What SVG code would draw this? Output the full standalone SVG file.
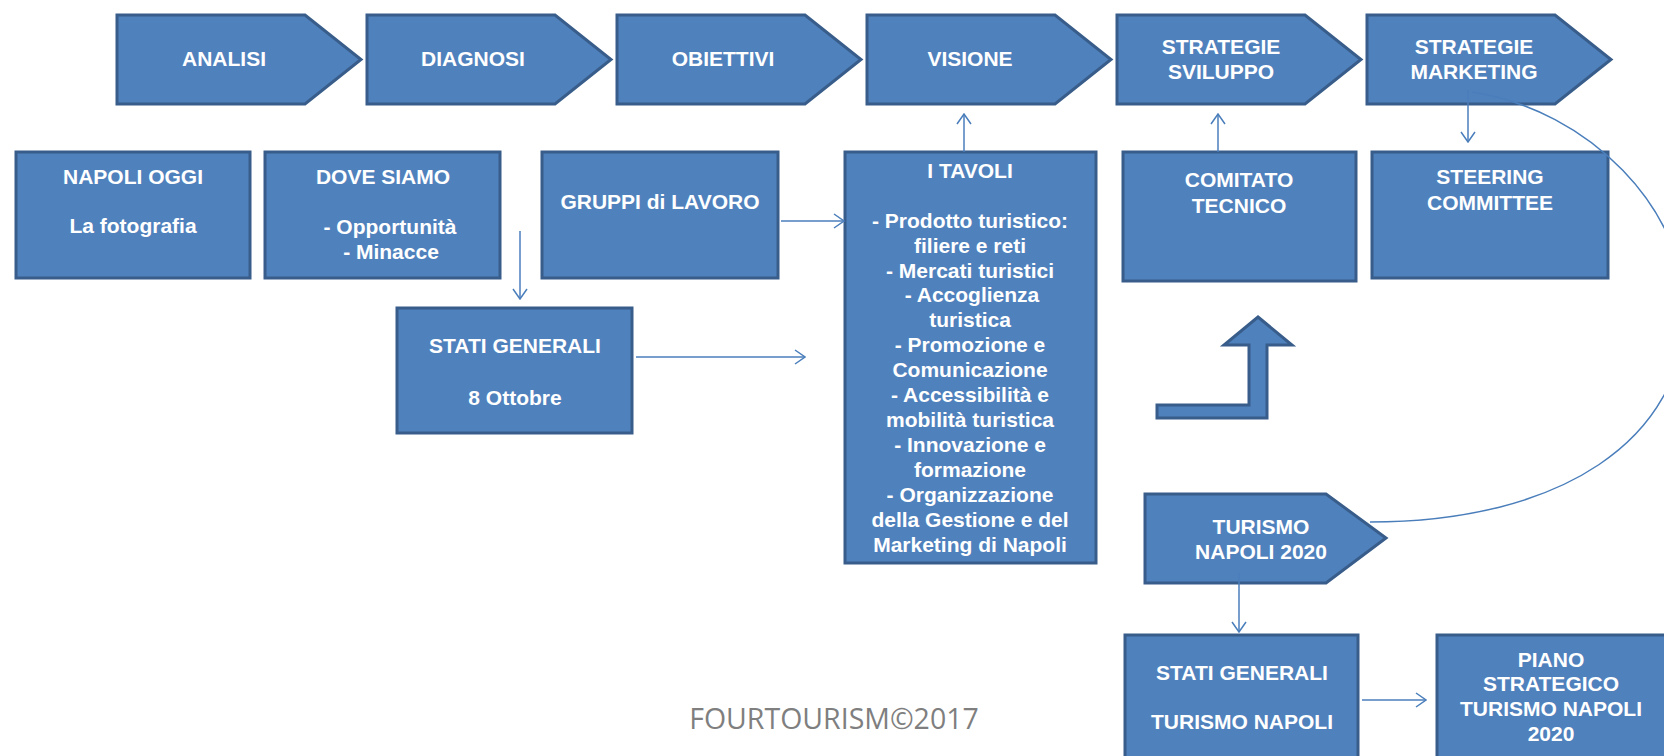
<svg xmlns="http://www.w3.org/2000/svg" width="1664" height="756" viewBox="0 0 1664 756">
<defs>
<style>
.box{fill:#4F81BD;stroke:#385D8A;stroke-width:3;stroke-linejoin:miter}
.t{font-family:"Liberation Sans",Arial,sans-serif;font-weight:bold;font-size:21px;fill:#FFFFFF;text-anchor:middle}
.c{fill:none;stroke:#4A7EBB;stroke-width:1.5}
.foot{font-family:"Open Sans","Liberation Sans",sans-serif;font-size:28.5px;fill:#7F7F7F;text-anchor:middle}
</style>
<marker id="ah" viewBox="0 0 12 16" refX="11" refY="8" markerWidth="12" markerHeight="16" markerUnits="userSpaceOnUse" orient="auto">
<path d="M1,1 L11,8 L1,15" fill="none" stroke="#4A7EBB" stroke-width="1.5"/>
</marker>
</defs>
<rect width="1664" height="756" fill="#FFFFFF"/>

<g id="analisi"><path class="box" d="M117,15 H305 L361,59.5 L305,104 H117 Z"/><text class="t" x="224" y="66">ANALISI</text></g>
<g id="diagnosi"><path class="box" d="M367,15 H555 L611,59.5 L555,104 H367 Z"/><text class="t" x="473" y="66">DIAGNOSI</text></g>
<g id="obiettivi"><path class="box" d="M617,15 H805 L861,59.5 L805,104 H617 Z"/><text class="t" x="723" y="66">OBIETTIVI</text></g>
<g id="visione"><path class="box" d="M867,15 H1055 L1111,59.5 L1055,104 H867 Z"/><text class="t" x="970" y="66">VISIONE</text></g>
<g id="strategie-sviluppo"><path class="box" d="M1117,15 H1305 L1361,59.5 L1305,104 H1117 Z"/><text class="t" x="1221" y="54">STRATEGIE</text><text class="t" x="1221" y="79">SVILUPPO</text></g>
<g id="strategie-marketing"><path class="box" d="M1367,15 H1555 L1611,59.5 L1555,104 H1367 Z"/><text class="t" x="1474" y="54">STRATEGIE</text><text class="t" x="1474" y="79">MARKETING</text></g>

<g id="napoli-oggi"><rect class="box" x="16" y="152" width="234" height="126"/><text class="t" x="133" y="184">NAPOLI OGGI</text><text class="t" x="133" y="233">La fotografia</text></g>
<g id="dove-siamo"><rect class="box" x="265" y="152" width="235" height="126"/><text class="t" x="383" y="184">DOVE SIAMO</text><text class="t" x="390" y="234">- Opportunità</text><text class="t" x="391" y="259">- Minacce</text></g>
<g id="gruppi"><rect class="box" x="542" y="152" width="236" height="126"/><text class="t" x="660" y="209">GRUPPI di LAVORO</text></g>
<g id="tavoli"><rect class="box" x="845" y="152" width="251" height="411"/>
<text class="t" x="970" y="178">I TAVOLI</text>
<text class="t" x="970" y="228">-  Prodotto turistico:</text>
<text class="t" x="970" y="253">filiere e reti</text>
<text class="t" x="970" y="278">- Mercati turistici</text>
<text class="t" x="972" y="302">- Accoglienza</text>
<text class="t" x="970" y="327">turistica</text>
<text class="t" x="970" y="352">- Promozione e</text>
<text class="t" x="970" y="377">Comunicazione</text>
<text class="t" x="970" y="402">- Accessibilità e</text>
<text class="t" x="970" y="427">mobilità turistica</text>
<text class="t" x="970" y="452">- Innovazione e</text>
<text class="t" x="970" y="477">formazione</text>
<text class="t" x="970" y="502">- Organizzazione</text>
<text class="t" x="970" y="527">della Gestione e del</text>
<text class="t" x="970" y="552">Marketing di Napoli</text>
</g>
<g id="comitato"><rect class="box" x="1123" y="152" width="233" height="129"/><text class="t" x="1239" y="187">COMITATO</text><text class="t" x="1239" y="213">TECNICO</text></g>
<g id="steering"><rect class="box" x="1372" y="152" width="236" height="126"/><text class="t" x="1490" y="184">STEERING</text><text class="t" x="1490" y="210">COMMITTEE</text></g>
<g id="stati-generali-8"><rect class="box" x="397" y="308" width="235" height="125"/><text class="t" x="515" y="353">STATI GENERALI</text><text class="t" x="515" y="405">8 Ottobre</text></g>
<g id="turismo-2020"><path class="box" d="M1145,494 H1326 L1386,538 L1326,583 H1145 Z"/><text class="t" x="1261" y="534">TURISMO</text><text class="t" x="1261" y="559">NAPOLI 2020</text></g>
<g id="stati-generali-tn"><rect class="box" x="1125" y="635" width="233" height="130"/><text class="t" x="1242" y="680">STATI GENERALI</text><text class="t" x="1242" y="729">TURISMO NAPOLI</text></g>
<g id="piano"><rect class="box" x="1437" y="635" width="232" height="130"/><text class="t" x="1551" y="667">PIANO</text><text class="t" x="1551" y="691">STRATEGICO</text><text class="t" x="1551" y="716">TURISMO NAPOLI</text><text class="t" x="1551" y="741">2020</text></g>
<g id="bent-arrow"><path class="box" d="M1258,317 L1292,345 L1267,345 L1267,418 L1157,418 L1157,405 L1249,405 L1249,345 L1224,345 Z"/></g>

<g id="connectors">
<line class="c" x1="520" y1="231" x2="520" y2="299" marker-end="url(#ah)"/>
<line class="c" x1="781" y1="221" x2="844" y2="221" marker-end="url(#ah)"/>
<line class="c" x1="636" y1="357" x2="805" y2="357" marker-end="url(#ah)"/>
<line class="c" x1="964" y1="152" x2="964" y2="114" marker-end="url(#ah)"/>
<line class="c" x1="1218" y1="152" x2="1218" y2="114" marker-end="url(#ah)"/>
<line class="c" x1="1468" y1="90" x2="1468" y2="142" marker-end="url(#ah)"/>
<line class="c" x1="1239" y1="573" x2="1239" y2="632" marker-end="url(#ah)"/>
<line class="c" x1="1362" y1="700" x2="1426" y2="700" marker-end="url(#ah)"/>
<path class="c" d="M1472,92 C1590,110 1685,210 1685,310 C1685,440 1560,522 1370,522"/>
</g>

<text class="foot" x="834" y="729">FOURTOURISM©2017</text>
</svg>
